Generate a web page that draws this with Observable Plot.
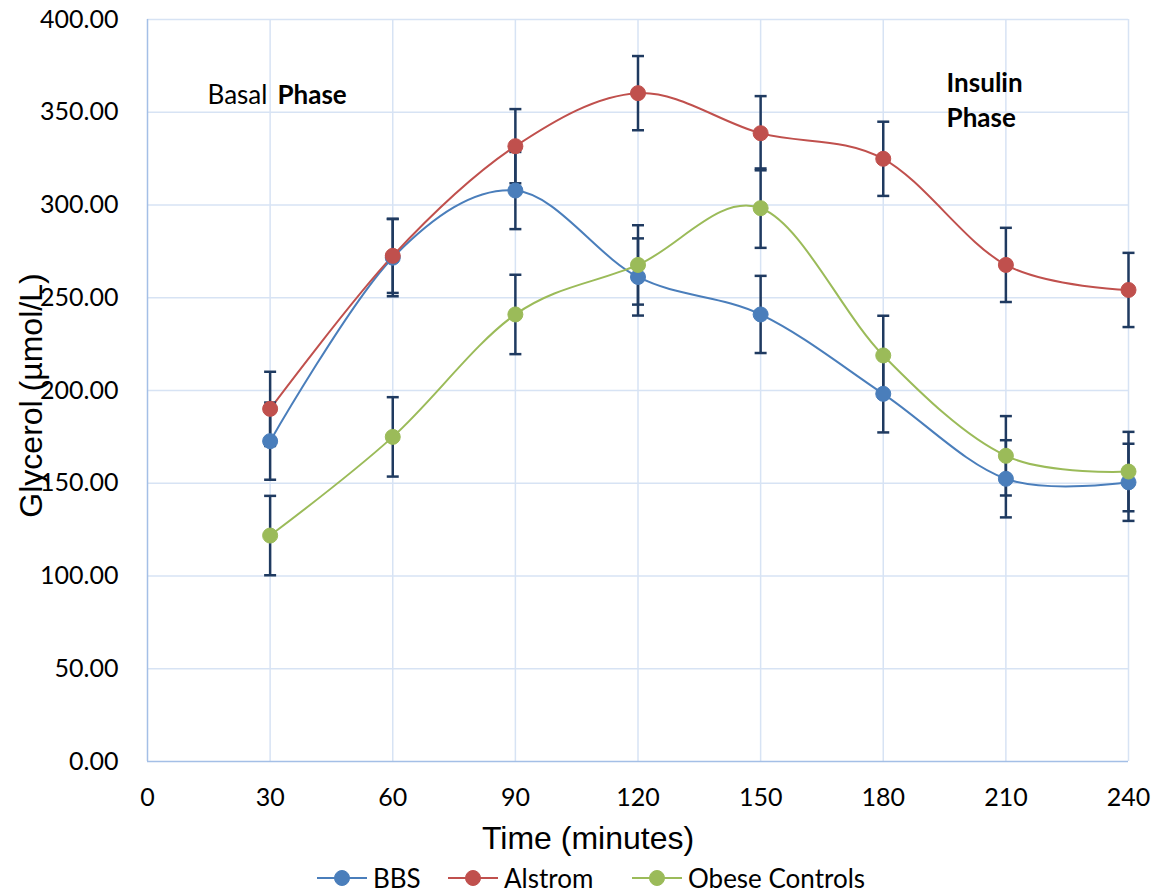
<!DOCTYPE html>
<html><head><meta charset="utf-8">
<script src="https://cdn.jsdelivr.net/npm/d3@7"></script>
<script src="https://cdn.jsdelivr.net/npm/@observablehq/plot@0.6"></script>
<style>
body{margin:0;background:#fff;}
#chart{width:1152px;}
#chart svg{display:block;}
#legend{position:relative;width:1152px;height:31px;font-family:Lato,"Open Sans",sans-serif;font-size:26px;color:#000;}
.item{position:absolute;top:0;height:31px;display:flex;align-items:center;white-space:nowrap;}
.item svg{margin-right:6px;}
</style></head><body>
<div id="chart"></div>
<div id="legend"></div>
<script>
// ---- data ----
const times = [30, 60, 90, 120, 150, 180, 210, 240];
const seriesNames = ["BBS", "Alstrom", "Obese Controls"];
const seriesColors = ["#4a7ebb", "#c0504d", "#9bbb59"];
const bbs     = [172.7, 271.6, 307.8, 261.2, 241.0, 198.2, 152.4, 150.5];
const alstrom = [190.1, 272.6, 331.7, 360.3, 338.7, 324.9, 267.7, 254.2];
const obese   = [121.8, 175.0, 241.0, 267.7, 298.3, 218.9, 164.8, 156.3];
const bbsErr     = [20.8, 20.8, 20.8, 20.8, 20.8, 20.8, 20.8, 20.8];
const alstromErr = [20.0, 20.0, 20.0, 20.0, 20.0, 20.0, 20.0, 20.0];
const obeseErr   = [21.4, 21.4, 21.4, 21.4, 21.4, 21.4, 21.4, 21.4];
const xTicks = [0, 30, 60, 90, 120, 150, 180, 210, 240];
const yTicks = [0, 50, 100, 150, 200, 250, 300, 350, 400];
const xTitle = "Time (minutes)";
const yTitle = "Glycerol (µmol/L)";
const annotations = [
  {text: "Basal", x: 14.7, y: 359, bold: false},
  {text: "Phase", x: 31.8, y: 359, bold: true},
  {text: "Insulin", x: 195.5, y: 365.5, bold: true},
  {text: "Phase", x: 195.5, y: 346.6, bold: true}
];
const legendLeft = [317, 448, 632];

// ---- build table ----
const values = [bbs, alstrom, obese];
const errs = [bbsErr, alstromErr, obeseErr];
const rows = [];
seriesNames.forEach((s, i) => times.forEach((t, j) => rows.push({
  series: s, time: t, value: values[i][j], lo: values[i][j] - errs[i][j], hi: values[i][j] + errs[i][j]
})));

const navy = "#1f3a60";
const capSymbol = {draw(ctx) { ctx.moveTo(-6, 0); ctx.lineTo(6, 0); }};
const gridColor = "#d7e3f4";
const axisColor = "#a4bfe6";

const chart = Plot.plot({
  width: 1152, height: 862,
  marginLeft: 147, marginRight: 24, marginTop: 19, marginBottom: 101,
  style: {fontFamily: "Lato, 'Open Sans', sans-serif", fontSize: "25px", color: "#000", background: "#fff"},
  x: {domain: [0, 240]},
  y: {domain: [0, 400]},
  color: {domain: seriesNames, range: seriesColors},
  marks: [
    Plot.gridX({ticks: xTicks.filter(d => d > 0), stroke: gridColor, strokeOpacity: 1, strokeWidth: 1.5}),
    Plot.gridY({ticks: yTicks.filter(d => d > 0), stroke: gridColor, strokeOpacity: 1, strokeWidth: 1.5}),
    Plot.ruleX([0], {stroke: axisColor, strokeWidth: 1.5}),
    Plot.ruleY([0], {stroke: axisColor, strokeWidth: 1.5}),
    Plot.axisX({ticks: xTicks, tickSize: 0, tickPadding: 27, label: null, fontSize: 25}),
    Plot.axisY({ticks: yTicks, tickSize: 0, tickPadding: 29, label: null, tickFormat: d3.format(".2f"), fontSize: 25}),
    Plot.line(rows, {x: "time", y: "value", z: "series", stroke: "series", strokeWidth: 2, curve: "cardinal"}),
    Plot.ruleX(rows, {x: "time", y1: "lo", y2: "hi", stroke: navy, strokeWidth: 2.5}),
    Plot.dot(rows, {x: "time", y: "lo", symbol: capSymbol, fill: "none", stroke: navy, strokeWidth: 2.5}),
    Plot.dot(rows, {x: "time", y: "hi", symbol: capSymbol, fill: "none", stroke: navy, strokeWidth: 2.5}),
    Plot.dot(rows, {x: "time", y: "value", fill: "series", stroke: "series", strokeWidth: 1, r: 7.5}),
    Plot.text(annotations.filter(d => !d.bold), {x: "x", y: "y", text: "text", textAnchor: "start", fontSize: 26, fontFamily: "Lato"}),
    Plot.text(annotations.filter(d => d.bold), {x: "x", y: "y", text: "text", textAnchor: "start", fontSize: 26, fontWeight: "bold", fontFamily: "Lato"}),
    Plot.text([xTitle], {frameAnchor: "bottom", textAnchor: "middle", dx: -50, dy: 87, fontSize: 32, fontFamily: "Liberation Sans, Arial, sans-serif"}),
    Plot.text([yTitle], {frameAnchor: "left", textAnchor: "middle", rotate: -90, dx: -116, dy: 5, fontSize: 32, fontFamily: "Liberation Sans, Arial, sans-serif"})
  ]
});
document.getElementById("chart").appendChild(chart);

// ---- legend ----
const legend = document.getElementById("legend");
seriesNames.forEach((s, i) => {
  const item = document.createElement("div");
  item.className = "item";
  item.style.left = legendLeft[i] + "px";
  item.innerHTML = `<svg width="50" height="20"><line x1="0" y1="10" x2="50" y2="10" stroke="${seriesColors[i]}" stroke-width="2"/><circle cx="25" cy="10" r="7.5" fill="${seriesColors[i]}" stroke="${seriesColors[i]}"/></svg><span>${s}</span>`;
  legend.appendChild(item);
});
</script>
</body></html>
